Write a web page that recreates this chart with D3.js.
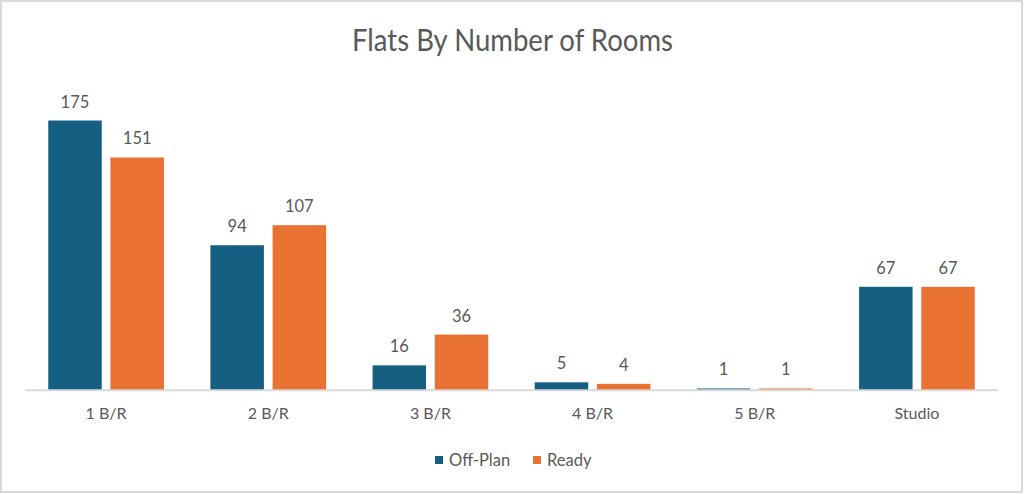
<!DOCTYPE html>
<html><head><meta charset="utf-8">
<script src="https://cdn.jsdelivr.net/npm/d3@7"></script>
<style>body{margin:0;background:#fff;}svg{display:block;font-family:Lato,"Open Sans",sans-serif;}</style>
</head><body>
<svg id="c" width="1024" height="494"></svg>
<script>
const categories = ["1 B/R","2 B/R","3 B/R","4 B/R","5 B/R","Studio"];
const seriesNames = ["Off-Plan","Ready"];
const offPlan = [175,94,16,5,1,67];
const ready = [151,107,36,4,1,67];
const colors = ["#156082","#E97132"];
const title = "Flats By Number of Rooms";

const svg = d3.select("#c");
const W=1024,H=494;
svg.append("rect").attr("x",1).attr("y",1).attr("width",W-3).attr("height",H-3)
  .attr("fill","#fff").attr("stroke","#d9d9d9").attr("stroke-width",2);

const plotL=25,plotR=998,plotB=390,plotT=82;
const x0=d3.scaleBand().domain(categories).range([plotL,plotR]).paddingInner(0.2866).paddingOuter(0.1433);
const x1=d3.scaleBand().domain(seriesNames).range([0,x0.bandwidth()]).paddingInner(0.14);
const y=d3.scaleLinear().domain([0,200]).range([plotB,plotT]);

const data=categories.map((c,i)=>({cat:c,vals:[offPlan[i],ready[i]]}));
const g=svg.append("g");
const grp=g.selectAll("g.grp").data(data).join("g").attr("transform",d=>`translate(${x0(d.cat)},0)`);
grp.selectAll("rect").data(d=>d.vals.map((v,j)=>({v,s:seriesNames[j],j})))
  .join("rect").attr("x",d=>x1(d.s)).attr("width",x1.bandwidth())
  .attr("y",d=>y(d.v)).attr("height",d=>plotB-y(d.v)).attr("fill",d=>colors[d.j]);
grp.selectAll("text").data(d=>d.vals.map((v,j)=>({v,s:seriesNames[j],j})))
  .join("text").attr("x",d=>x1(d.s)+x1.bandwidth()/2).attr("y",d=>y(d.v)-13)
  .attr("text-anchor","middle").attr("fill","#595959").attr("font-size",16.5).text(d=>d.v);

// axis
const ax=svg.append("g").attr("transform",`translate(0,${plotB})`)
  .call(d3.axisBottom(x0).tickSize(0).tickPadding(18));
ax.select(".domain").attr("stroke","#d9d9d9").attr("stroke-width",2).attr("d",`M${plotL},0.3H${plotR}`);
ax.selectAll("text").attr("fill","#595959").attr("font-size",16).attr("font-family","Lato,'Open Sans',sans-serif");

svg.append("text").attr("x",512.5).attr("y",51).attr("text-anchor","middle")
  .attr("font-size",30).attr("textLength",321).attr("lengthAdjust","spacingAndGlyphs")
  .attr("fill","#595959").text(title);

// legend
const leg=svg.append("g");
const lx=[435,533];
seriesNames.forEach((s,i)=>{
  leg.append("rect").attr("x",lx[i]).attr("y",456).attr("width",8).attr("height",8).attr("fill",colors[i]);
  leg.append("text").attr("x",lx[i]+14).attr("y",466).attr("font-size",16.5).attr("fill","#595959").text(s);
});
</script>
</body></html>
